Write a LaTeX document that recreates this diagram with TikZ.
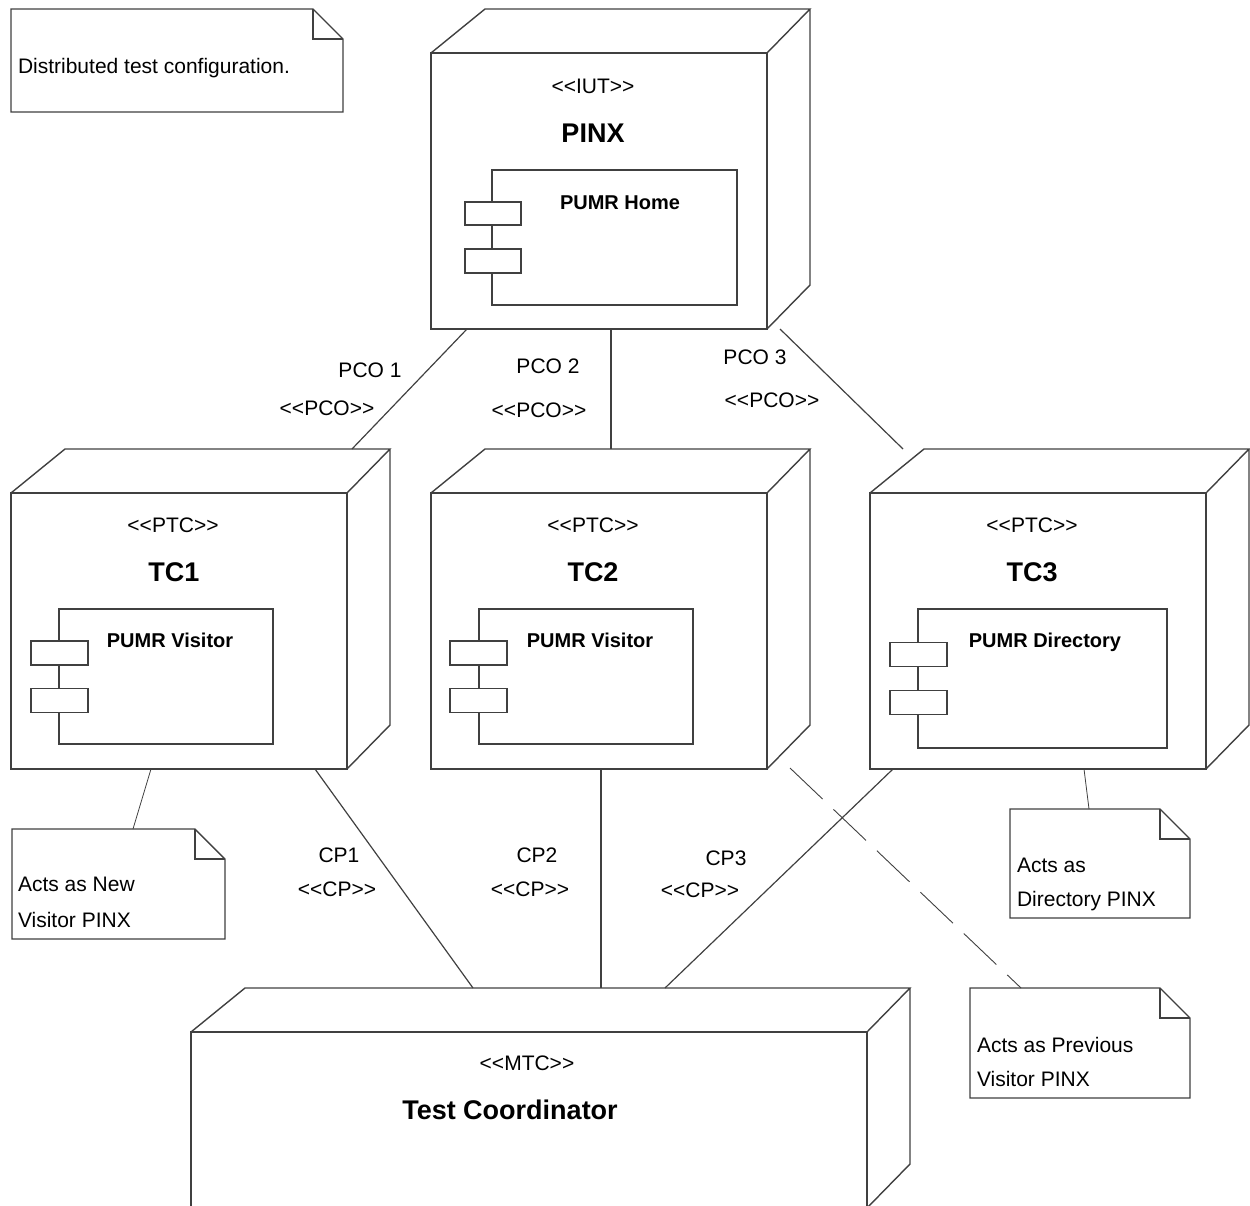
\documentclass[tikz,border=0pt]{standalone}
\usepackage{fontspec}
\setmainfont{Liberation Sans}
\usetikzlibrary{calc}
\definecolor{ln}{HTML}{404040}
\newcommand\stt[1]{<\kern0pt<#1>\kern0pt>}
\newcommand\nodeback[1]{%
  \draw[edge] (#1.north west) -- ([shift={(54pt,44pt)}]#1.north west)
    -- ([shift={(43pt,44pt)}]#1.north east) -- (#1.north east)
    ([shift={(43pt,44pt)}]#1.north east) -- ([shift={(43pt,44pt)}]#1.south east)
    -- (#1.south east);}
\newcommand\notefold[1]{%
  \draw[edge,fill=white] (#1.north west) -- ([xshift=-30pt]#1.north east)
    -- ([yshift=-30pt]#1.north east) -- (#1.south east) -- (#1.south west) -- cycle;
  \draw[edge] ([xshift=-30pt]#1.north east) -- ([xshift=-30pt,yshift=-30pt]#1.north east)
    -- ([yshift=-30pt]#1.north east);}
\begin{document}
\begin{tikzpicture}[x=1pt,y=-1pt,
  every node/.style={inner sep=0pt,outer sep=0pt},
  edge/.style={draw=ln,line width=1.4pt,line join=miter},
  front/.style={rectangle,draw=ln,line width=1.4pt,fill=white},
  comp/.style={rectangle,draw=ln,line width=1.4pt},
  port/.style={rectangle,draw=ln,line width=1.4pt,fill=white,minimum width=57pt,minimum height=24pt},
  notebox/.style={rectangle},
  conn/.style={draw=ln,line width=1.2pt},
  attach/.style={draw=ln,line width=0.8pt},
  dashconn/.style={draw=ln,line width=0.9pt,dash pattern=on 45pt off 15pt},
  lbl/.style={font=\fontsize{21}{25}\selectfont,anchor=base},
  ttl/.style={font=\fontsize{27}{32}\selectfont\bfseries,anchor=base},
  cmpt/.style={font=\fontsize{20}{24}\selectfont\bfseries,anchor=base},
  ntxt/.style={font=\fontsize{21}{25}\selectfont,anchor=base west}]
\useasboundingbox (0,0) rectangle (1250,1205);
\clip (0,0) rectangle (1250,1205);

% ---------- nodes (front faces) ----------
\node[front,minimum width=336pt,minimum height=276pt] (pinx) at (599,191) {};
\nodeback{pinx}
\node[front,minimum width=336pt,minimum height=276pt] (tc1) at (179,631) {};
\nodeback{tc1}
\node[front,minimum width=336pt,minimum height=276pt] (tc2) at (599,631) {};
\nodeback{tc2}
\node[front,minimum width=336pt,minimum height=276pt] (tc3) at (1038,631) {};
\nodeback{tc3}
\node[front,minimum width=676pt,minimum height=176pt] (mtc) at (529,1120) {};
\nodeback{mtc}

% ---------- components ----------
\node[comp,minimum width=245pt,minimum height=135pt] (pinxc) at (614.5,237.5) {};
\node[port,minimum width=56pt,minimum height=23pt] (pinxp1) at (493,213.5) {};
\node[port,minimum width=56pt] (pinxp2) at (493,261) {};

\node[comp,minimum width=214pt,minimum height=135pt] (tc1c) at (166,676.5) {};
\node[port] (tc1p1) at (59.5,653) {};
\node[port] (tc1p2) at (59.5,700.5) {};

\node[comp,minimum width=214pt,minimum height=135pt] (tc2c) at (586,676.5) {};
\node[port] (tc2p1) at (478.5,653) {};
\node[port] (tc2p2) at (478.5,700.5) {};

\node[comp,minimum width=249pt,minimum height=139pt] (tc3c) at (1042.5,678.5) {};
\node[port] (tc3p1) at (918.5,654.5) {};
\node[port] (tc3p2) at (918.5,702.5) {};

% ---------- texts in nodes ----------
\node[lbl] (pinxs) at (593,93) {\stt{IUT}};
\node[ttl] (pinxn) at (593,142) {PINX};
\node[cmpt] (pinxct) at (620,209) {PUMR Home};

\node[lbl] (tc1s) at (173,532) {\stt{PTC}};
\node[ttl] (tc1n) at (174,581) {TC1};
\node[cmpt] (tc1ct) at (170,647) {PUMR Visitor};

\node[lbl] (tc2s) at (593,532) {\stt{PTC}};
\node[ttl] (tc2n) at (593,581) {TC2};
\node[cmpt] (tc2ct) at (590,647) {PUMR Visitor};

\node[lbl] (tc3s) at (1032,532) {\stt{PTC}};
\node[ttl] (tc3n) at (1032,581) {TC3};
\node[cmpt] (tc3ct) at (1045,647) {PUMR Directory};

\node[lbl] (mtcs) at (527,1070) {\stt{MTC}};
\node[ttl] (mtcn) at (510,1119) {Test Coordinator};

% ---------- connectors ----------
\draw[conn] ([xshift=36pt]pinx.south west) -- ([shift={(341pt,44pt)}]tc1.north west);
\draw[conn] ([xshift=180pt]pinx.south west) -- ([shift={(180pt,44pt)}]tc2.north west);
\draw[conn] ([xshift=349pt]pinx.south west) -- ([shift={(33pt,44pt)}]tc3.north west);
\draw[conn] ([xshift=304pt]tc1.south west) -- ([shift={(282pt,44pt)}]mtc.north west);
\draw[conn] ([xshift=170pt]tc2.south west) -- ([shift={(410pt,44pt)}]mtc.north west);
\draw[conn] ([xshift=23pt]tc3.south west) -- ([shift={(474pt,44pt)}]mtc.north west);

% connector labels
\node[lbl] (l1a) at (370,377) {PCO 1};
\node[lbl] (l1b) at (327,415) {\stt{PCO}};
\node[lbl] (l2a) at (548,373) {PCO 2};
\node[lbl] (l2b) at (539,417) {\stt{PCO}};
\node[lbl] (l3a) at (755,364) {PCO 3};
\node[lbl] (l3b) at (772,407) {\stt{PCO}};
\node[lbl] (c1a) at (339,862) {CP1};
\node[lbl] (c1b) at (337,896) {\stt{CP}};
\node[lbl] (c2a) at (537,862) {CP2};
\node[lbl] (c2b) at (530,896) {\stt{CP}};
\node[lbl] (c3a) at (726,865) {CP3};
\node[lbl] (c3b) at (700,897) {\stt{CP}};

% ---------- notes ----------
\node[notebox,minimum width=332pt,minimum height=103pt] (note0) at (177,60.5) {};
\notefold{note0}
\node[ntxt] (note0t) at (18,73) {Distributed test configuration.};

\node[notebox,minimum width=213pt,minimum height=110pt] (note1) at (118.5,884) {};
\notefold{note1}
\node[ntxt] (note1a) at (18,891) {Acts as New};
\node[ntxt] (note1b) at (18,927) {Visitor PINX};

\node[notebox,minimum width=180pt,minimum height=109pt] (note2) at (1100,863.5) {};
\notefold{note2}
\node[ntxt] (note2a) at (1017,872) {Acts as};
\node[ntxt] (note2b) at (1017,906) {Directory PINX};

\node[notebox,minimum width=220pt,minimum height=110pt] (note3) at (1080,1043) {};
\notefold{note3}
\node[ntxt] (note3a) at (977,1052) {Acts as Previous};
\node[ntxt] (note3b) at (977,1086) {Visitor PINX};

% note attachments
\draw[attach] ([xshift=140pt]tc1.south west) -- ([xshift=121pt]note1.north west);
\draw[attach] ([xshift=214pt]tc3.south west) -- ([xshift=79pt]note2.north west);
\draw[dashconn] ([xshift=23pt,yshift=1pt]tc2.south east) -- ([xshift=51pt]note3.north west);
\end{tikzpicture}
\end{document}
